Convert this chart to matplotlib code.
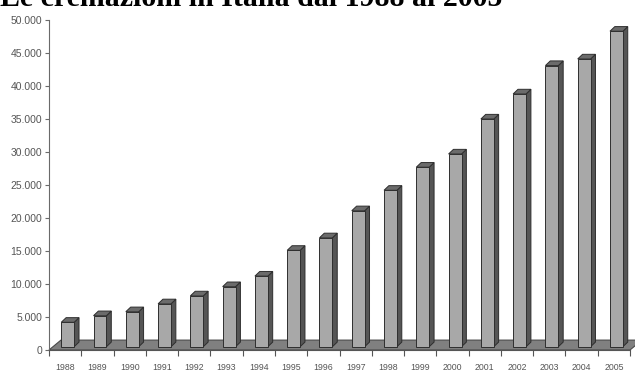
import matplotlib
matplotlib.use("Agg")
import matplotlib.pyplot as plt
from matplotlib.patches import Polygon
from matplotlib.ticker import FuncFormatter

# Cremations per year in Italy
years = ["1988", "1989", "1990", "1991", "1992", "1993", "1994", "1995", "1996",
         "1997", "1998", "1999", "2000", "2001", "2002", "2003", "2004", "2005"]
cremations = [3700, 4700, 5300, 6500, 7700, 9100, 10700, 14600, 16500,
              20600, 23700, 27200, 29200, 34500, 38300, 42600, 43600, 47800]
y_ticks = [0, 5000, 10000, 15000, 20000, 25000, 30000, 35000, 40000, 45000, 50000]


def main():
    fig = plt.figure(figsize=(6.35, 3.70), dpi=100)
    ax = fig.add_axes([49 / 635, 20 / 370, 581 / 635, 330 / 370])

    n = len(years)
    ax.set_xlim(-0.5, n - 0.5)
    ax.set_ylim(0, 50000)

    # 3D look: fake depth in data units
    dx, dy = 0.15, 700
    base = 500
    width = 0.4
    shift = 0.08

    # floor slab
    floor_dx, floor_dy = 0.37, 1500
    floor = Polygon([(-0.5, 0), (n - 0.5, 0), (n - 0.5 + floor_dx, floor_dy),
                     (-0.5 + floor_dx, floor_dy)], closed=True,
                    facecolor="#808080", edgecolor="#4a4a4a", lw=0.8,
                    clip_on=False, zorder=1)
    ax.add_patch(floor)

    for i, v in enumerate(cremations):
        x0 = i - width / 2 + shift
        x1 = x0 + width
        top = base + v
        side = Polygon([(x1, base), (x1 + dx, base + dy), (x1 + dx, top + dy),
                        (x1, top)], closed=True, facecolor="#555555",
                       edgecolor="#2e2e2e", lw=0.7, zorder=3)
        cap = Polygon([(x0, top), (x1, top), (x1 + dx, top + dy),
                       (x0 + dx, top + dy)], closed=True, facecolor="#6b6b6b",
                      edgecolor="#2e2e2e", lw=0.7, zorder=3, clip_on=False)
        ax.add_patch(side)
        ax.add_patch(cap)
    ax.bar([i + shift for i in range(n)], cremations, width=width, bottom=base,
           color="#a8a8a8", edgecolor="#2e2e2e", linewidth=0.7, zorder=4)

    # axes styling
    for s in ["top", "right"]:
        ax.spines[s].set_visible(False)
    ax.spines["left"].set_color("#6a6a6a")
    ax.spines["bottom"].set_color("#555555")
    ax.spines["left"].set_zorder(5)
    ax.spines["bottom"].set_zorder(5)

    ax.set_yticks(y_ticks)
    ax.yaxis.set_major_formatter(
        FuncFormatter(lambda v, p: f"{int(v):,}".replace(",", ".")))
    ax.tick_params(axis="y", length=3, color="#6a6a6a", labelsize=7.5,
                   labelcolor="#555555", pad=2)

    # ticks between categories, labels centred on the bars
    ax.set_xticks([i - 0.5 for i in range(n + 1)])
    ax.set_xticklabels([])
    ax.set_xticks(range(n), minor=True)
    ax.set_xticklabels(years, minor=True)
    ax.tick_params(axis="x", which="major", length=4, color="#555555")
    ax.tick_params(axis="x", which="minor", length=0, labelsize=6.3,
                   labelcolor="#555555", pad=9)

    for lab in ax.get_yticklabels() + ax.get_xticklabels(minor=True):
        lab.set_family("Liberation Sans")

    # title sits partly above the top edge
    fig.text(0.0, 1 - 6 / 370, "Le cremazioni in Italia dal 1988 al 2005",
             family="Liberation Serif", weight="bold", fontsize=21.5,
             va="baseline", ha="left")

    fig.savefig("out.png", dpi=100)


if __name__ == "__main__":
    main()
